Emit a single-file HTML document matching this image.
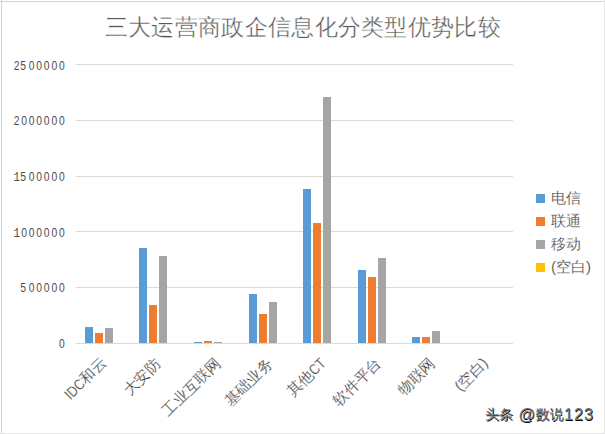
<!DOCTYPE html>
<html><head><meta charset="utf-8"><style>
html,body{margin:0;padding:0;background:#fff;}
svg{display:block;}
text{font-family:"Liberation Sans",sans-serif;}
.tt{font-size:23px;letter-spacing:0.3px;fill:#595959;stroke:#fff;stroke-width:0.35px;}
.yl{font-size:12px;fill:#4d4d4d;}
.yl.m{font-family:"Liberation Mono",monospace;font-size:12.5px;}
.xl{font-size:15px;fill:#404040;stroke:#fff;stroke-width:0.2px;}
.lg{font-size:15px;fill:#404040;stroke:#fff;stroke-width:0.2px;}
.wm text{font-size:14px;font-weight:normal;stroke-width:0;}
.wmd text{fill:#000;stroke:#000;}
.wml text{fill:#7a7a7a;stroke:#7a7a7a;}
.wm .wd{font-size:16.5px;font-weight:normal;stroke-width:0;letter-spacing:0.8px;}
.lat{font-size:13px;}
</style></head><body>
<svg width="605" height="434" viewBox="0 0 605 434">
<rect width="605" height="434" fill="#fff"/>
<rect x="0" y="1" width="605" height="1" fill="#d4d4d4"/>
<rect x="1" y="0" width="1" height="434" fill="#d4d4d4"/>
<rect x="604" y="0" width="1" height="434" fill="#e6e6e6"/>
<rect x="0" y="433" width="605" height="1" fill="#e6e6e6"/>
<rect x="76" y="64" width="437" height="1" fill="#d9d9d9"/>
<rect x="76" y="120" width="437" height="1" fill="#d9d9d9"/>
<rect x="76" y="176" width="437" height="1" fill="#d9d9d9"/>
<rect x="76" y="231" width="437" height="1" fill="#d9d9d9"/>
<rect x="76" y="287" width="437" height="1" fill="#d9d9d9"/>
<rect x="76" y="343" width="437" height="1" fill="#d9d9d9"/>
<rect x="85" y="327" width="8" height="16" fill="#5b9bd5"/>
<rect x="95" y="333" width="8" height="10" fill="#ed7d31"/>
<rect x="105" y="328" width="8" height="15" fill="#a5a5a5"/>
<rect x="139" y="248" width="8" height="95" fill="#5b9bd5"/>
<rect x="149" y="305" width="8" height="38" fill="#ed7d31"/>
<rect x="159" y="256" width="8" height="87" fill="#a5a5a5"/>
<rect x="194" y="342" width="8" height="1" fill="#5b9bd5"/>
<rect x="204" y="341" width="8" height="2" fill="#ed7d31"/>
<rect x="214" y="342" width="8" height="1" fill="#a5a5a5"/>
<rect x="249" y="294" width="8" height="49" fill="#5b9bd5"/>
<rect x="259" y="314" width="8" height="29" fill="#ed7d31"/>
<rect x="269" y="302" width="8" height="41" fill="#a5a5a5"/>
<rect x="303" y="189" width="8" height="154" fill="#5b9bd5"/>
<rect x="313" y="223" width="8" height="120" fill="#ed7d31"/>
<rect x="323" y="97" width="8" height="246" fill="#a5a5a5"/>
<rect x="358" y="270" width="8" height="73" fill="#5b9bd5"/>
<rect x="368" y="277" width="8" height="66" fill="#ed7d31"/>
<rect x="378" y="258" width="8" height="85" fill="#a5a5a5"/>
<rect x="412" y="337" width="8" height="6" fill="#5b9bd5"/>
<rect x="422" y="337" width="8" height="6" fill="#ed7d31"/>
<rect x="432" y="331" width="8" height="12" fill="#a5a5a5"/>
<text class="yl" transform="translate(16.62,69.5) scale(0.86,1)" text-anchor="middle">2</text>
<text class="yl" transform="translate(23.05,69.5) scale(0.86,1)" text-anchor="middle">5</text>
<text class="yl" transform="translate(31.68,69.5) scale(0.86,1)" text-anchor="middle">0</text>
<text class="yl" transform="translate(39.21,69.5) scale(0.86,1)" text-anchor="middle">0</text>
<text class="yl" transform="translate(46.74,69.5) scale(0.86,1)" text-anchor="middle">0</text>
<text class="yl" transform="translate(54.27,69.5) scale(0.86,1)" text-anchor="middle">0</text>
<text class="yl" transform="translate(61.80,69.5) scale(0.86,1)" text-anchor="middle">0</text>
<text class="yl" transform="translate(16.62,125.2) scale(0.86,1)" text-anchor="middle">2</text>
<text class="yl" transform="translate(24.15,125.2) scale(0.86,1)" text-anchor="middle">0</text>
<text class="yl" transform="translate(31.68,125.2) scale(0.86,1)" text-anchor="middle">0</text>
<text class="yl" transform="translate(39.21,125.2) scale(0.86,1)" text-anchor="middle">0</text>
<text class="yl" transform="translate(46.74,125.2) scale(0.86,1)" text-anchor="middle">0</text>
<text class="yl" transform="translate(54.27,125.2) scale(0.86,1)" text-anchor="middle">0</text>
<text class="yl" transform="translate(61.80,125.2) scale(0.86,1)" text-anchor="middle">0</text>
<text class="yl m" transform="translate(16.62,180.9) scale(0.86,1)" text-anchor="middle">1</text>
<text class="yl" transform="translate(23.05,180.9) scale(0.86,1)" text-anchor="middle">5</text>
<text class="yl" transform="translate(31.68,180.9) scale(0.86,1)" text-anchor="middle">0</text>
<text class="yl" transform="translate(39.21,180.9) scale(0.86,1)" text-anchor="middle">0</text>
<text class="yl" transform="translate(46.74,180.9) scale(0.86,1)" text-anchor="middle">0</text>
<text class="yl" transform="translate(54.27,180.9) scale(0.86,1)" text-anchor="middle">0</text>
<text class="yl" transform="translate(61.80,180.9) scale(0.86,1)" text-anchor="middle">0</text>
<text class="yl m" transform="translate(16.62,236.6) scale(0.86,1)" text-anchor="middle">1</text>
<text class="yl" transform="translate(24.15,236.6) scale(0.86,1)" text-anchor="middle">0</text>
<text class="yl" transform="translate(31.68,236.6) scale(0.86,1)" text-anchor="middle">0</text>
<text class="yl" transform="translate(39.21,236.6) scale(0.86,1)" text-anchor="middle">0</text>
<text class="yl" transform="translate(46.74,236.6) scale(0.86,1)" text-anchor="middle">0</text>
<text class="yl" transform="translate(54.27,236.6) scale(0.86,1)" text-anchor="middle">0</text>
<text class="yl" transform="translate(61.80,236.6) scale(0.86,1)" text-anchor="middle">0</text>
<text class="yl" transform="translate(23.05,292.3) scale(0.86,1)" text-anchor="middle">5</text>
<text class="yl" transform="translate(31.68,292.3) scale(0.86,1)" text-anchor="middle">0</text>
<text class="yl" transform="translate(39.21,292.3) scale(0.86,1)" text-anchor="middle">0</text>
<text class="yl" transform="translate(46.74,292.3) scale(0.86,1)" text-anchor="middle">0</text>
<text class="yl" transform="translate(54.27,292.3) scale(0.86,1)" text-anchor="middle">0</text>
<text class="yl" transform="translate(61.80,292.3) scale(0.86,1)" text-anchor="middle">0</text>
<text class="yl" transform="translate(61.80,348.0) scale(0.86,1)" text-anchor="middle">0</text>
<text class="xl" transform="translate(99.2,355.8) rotate(-45) translate(0,0) scale(1,1)" x="0" y="0" text-anchor="end" dominant-baseline="hanging">和云</text>
<text class="xl" transform="translate(99.2,355.8) rotate(-45) translate(-30,0) scale(0.85,1)" x="0" y="0" text-anchor="end" dominant-baseline="hanging">IDC</text>
<text class="xl" transform="translate(153.4,356.6) rotate(-45) translate(0,0) scale(1,1)" x="0" y="0" text-anchor="end" dominant-baseline="hanging">大安防</text>
<text class="xl" transform="translate(213.4,356.0) rotate(-45) translate(0,0) scale(1,1)" x="0" y="0" text-anchor="end" dominant-baseline="hanging">工业互联网</text>
<text class="xl" transform="translate(265.2,356.6) rotate(-45) translate(0,0) scale(1,1)" x="0" y="0" text-anchor="end" dominant-baseline="hanging">基础业务</text>
<text class="xl" transform="translate(318.8,356.2) rotate(-45) translate(0,0) scale(0.85,1)" x="0" y="0" text-anchor="end" dominant-baseline="hanging">CT</text>
<text class="xl" transform="translate(318.8,356.2) rotate(-45) translate(-17,0) scale(1,1)" x="0" y="0" text-anchor="end" dominant-baseline="hanging">其他</text>
<text class="xl" transform="translate(373.9,356.3) rotate(-45) translate(0,0) scale(1,1)" x="0" y="0" text-anchor="end" dominant-baseline="hanging">软件平台</text>
<text class="xl" transform="translate(427.9,356.1) rotate(-45) translate(0,0) scale(1,1)" x="0" y="0" text-anchor="end" dominant-baseline="hanging">物联网</text>
<text class="xl" transform="translate(480.9,355.9) rotate(-45) translate(0,0) scale(1,1)" x="0" y="0" text-anchor="end" dominant-baseline="hanging">(空白)</text>
<text class="tt" x="302.9" y="35" text-anchor="middle">三大运营商政企信息化分类型优势比较</text>
<rect x="536" y="194" width="9" height="9" fill="#5b9bd5"/>
<text class="lg" x="551" y="203">电信</text>
<rect x="536" y="217" width="9" height="9" fill="#ed7d31"/>
<text class="lg" x="551" y="226">联通</text>
<rect x="536" y="240" width="9" height="9" fill="#a5a5a5"/>
<text class="lg" x="551" y="249">移动</text>
<rect x="536" y="263" width="9" height="9" fill="#ffc000"/>
<text class="lg" x="551" y="272">(空白)</text>
<g class="wm wmd" transform="translate(0.6,0.6)"><text x="485" y="419" letter-spacing="0.3">头条</text><text class="wd" x="518.5" y="420.2">@</text><text x="535.5" y="419" letter-spacing="0.3">数说</text><text class="wd" x="564" y="420.2">123</text></g>
<g class="wm wml"><text x="485" y="419" letter-spacing="0.3">头条</text><text class="wd" x="518.5" y="420.2">@</text><text x="535.5" y="419" letter-spacing="0.3">数说</text><text class="wd" x="564" y="420.2">123</text></g>
</svg></body></html>
